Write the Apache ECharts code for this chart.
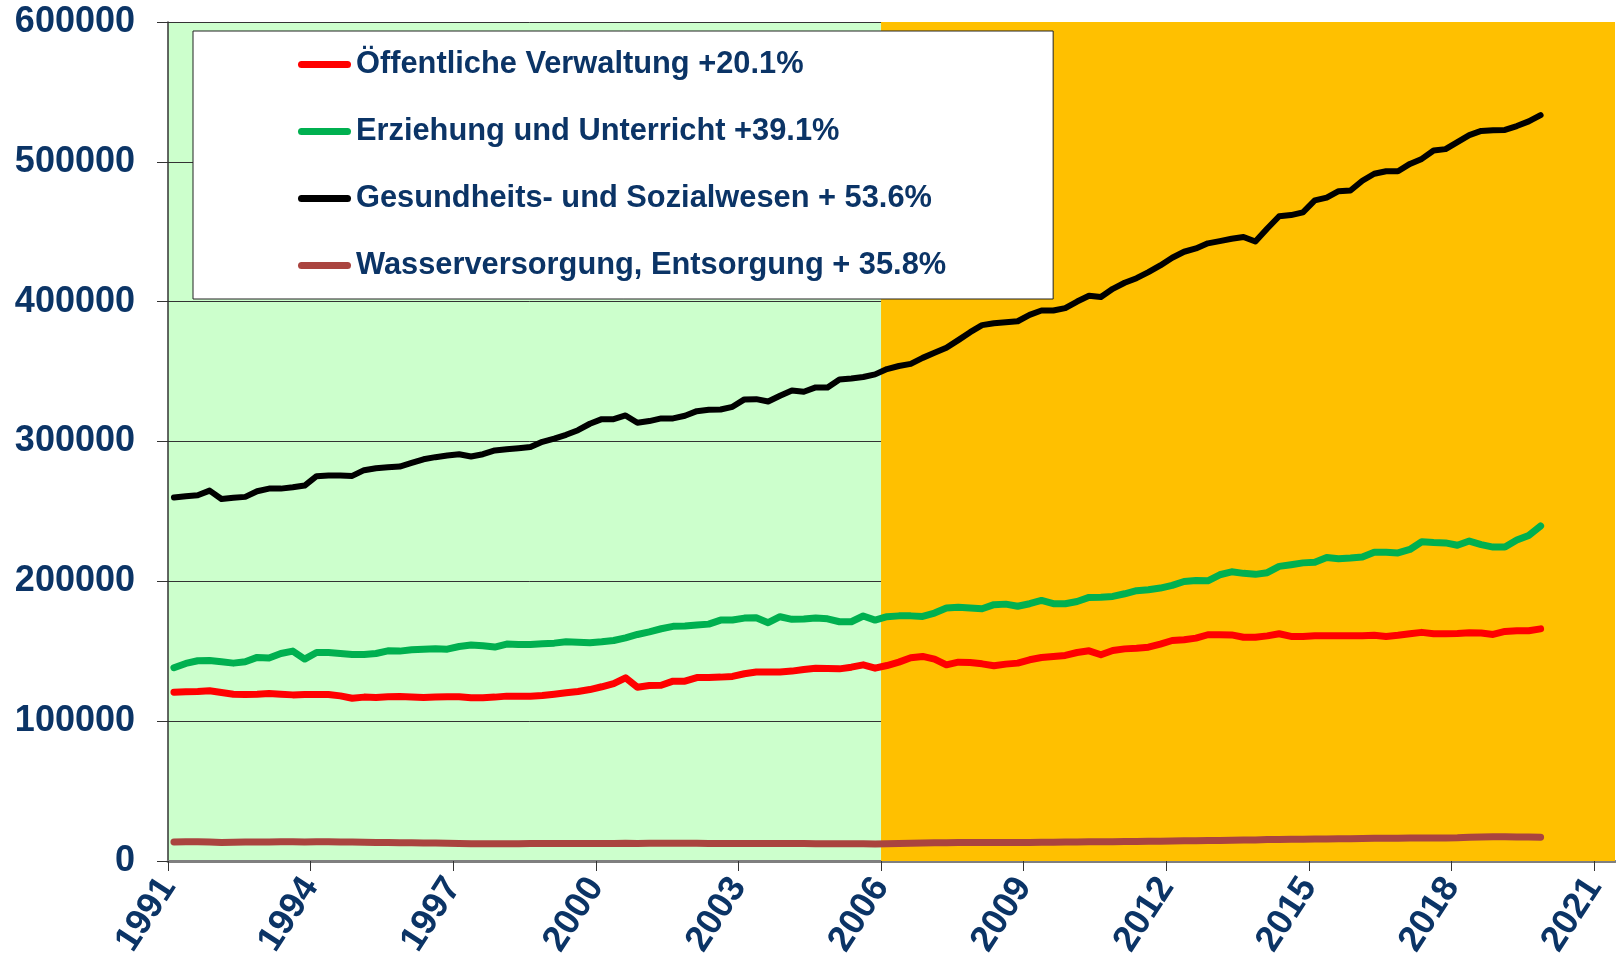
<!DOCTYPE html>
<html>
<head>
<meta charset="utf-8">
<title>Beschäftigte 1991-2019</title>
<script src="https://cdn.jsdelivr.net/npm/echarts@6.0.0/dist/echarts.min.js"></script>
<style>
  html, body { margin: 0; padding: 0; background: #fff; }
  #chart { width: 1616px; height: 966px; }
</style>
</head>
<body>
<div id="chart"></div>
<script>
// quarterly values 1991 Q1 .. 2019 Q4, one row = 3 years
const verwaltung = [
  120700, 121000, 121200, 121700, 120500, 119300, 119100, 119300, 119800, 119300, 118800, 119100,
  119100, 119100, 118100, 116400, 117200, 116900, 117400, 117600, 117200, 116900, 117200, 117400,
  117400, 116700, 116700, 117200, 117900, 117900, 117900, 118300, 119300, 120300, 121200, 122600,
  124600, 126900, 131000, 124300, 125500, 125700, 128600, 128600, 131200, 131200, 131500, 132000,
  133900, 135100, 135100, 135100, 135800, 137000, 137900, 137700, 137400, 138600, 140300, 137900,
  139800, 142200, 145300, 146300, 144400, 140300, 142200, 142000, 141000, 139600, 140800, 141500,
  143900, 145500, 146300, 147000, 149100, 150300, 147500, 150500, 151700, 152200, 152900, 155100,
  157700, 158200, 159400, 161800, 161800, 161700, 160000, 160000, 161000, 162500, 160600, 160600,
  161000, 161000, 161000, 161000, 161000, 161400, 160600, 161400, 162500, 163500, 162500, 162500,
  162700, 163200, 163000, 162000, 164200, 164700, 164700, 166000
];
const erziehung = [
  138200, 141300, 143200, 143400, 142500, 141500, 142500, 145600, 145100, 148400, 150100, 144400,
  149100, 149100, 148400, 147700, 147700, 148400, 150300, 150100, 151000, 151500, 151800, 151500,
  153400, 154400, 153900, 153000, 155100, 154900, 154900, 155300, 155800, 156800, 156500, 156100,
  156800, 157700, 159600, 162000, 163900, 166100, 167800, 168000, 168700, 169400, 172300, 172300,
  173700, 174000, 170400, 174700, 172800, 173000, 173700, 173200, 171100, 171100, 175200, 172300,
  174700, 175300, 175300, 174900, 177300, 180900, 181400, 180900, 180400, 183300, 183700, 182200,
  184000, 186300, 184000, 184000, 185600, 188500, 188700, 189200, 191100, 193300, 194000, 195200,
  197100, 199900, 200600, 200400, 204700, 206800, 205700, 205000, 206200, 210700, 211900, 213200,
  213600, 217000, 216200, 216700, 217400, 220800, 220800, 220300, 222800, 228300, 227800, 227500,
  225800, 228800, 226300, 224500, 224500, 229500, 232800, 239600
];
const gesundheit = [
  259900, 260900, 261600, 264900, 258900, 259700, 260400, 264400, 266300, 266300, 267300, 268500,
  275200, 275700, 275700, 275400, 279500, 280900, 281600, 282100, 284700, 287300, 288800, 290000,
  290900, 289300, 290900, 293600, 294500, 295200, 296000, 299800, 302100, 304800, 308100, 312700,
  316000, 316000, 318600, 313400, 314600, 316500, 316500, 318400, 321700, 322700, 322900, 324800,
  330100, 330300, 328600, 332700, 336500, 335600, 338700, 338700, 344400, 345100, 346100, 348000,
  351800, 354000, 355500, 359800, 363400, 367000, 372500, 378200, 383200, 384600, 385300, 386000,
  390600, 393700, 393700, 395400, 400100, 404200, 403300, 409200, 413500, 416800, 421100, 425900,
  431400, 435700, 438100, 441700, 443300, 445000, 446300, 443000, 452300, 461100, 461900, 463900,
  472400, 474400, 479000, 479500, 486500, 491500, 493300, 493300, 498500, 502100, 508100, 509100,
  514100, 519100, 522100, 522600, 522800, 525600, 528900, 533400
];
const wasser = [
  13600, 13700, 13800, 13500, 13300, 13400, 13500, 13600, 13600, 13700, 13800, 13600,
  13700, 13800, 13600, 13500, 13400, 13300, 13200, 13100, 13000, 12900, 12800, 12700,
  12500, 12400, 12300, 12300, 12400, 12400, 12500, 12500, 12500, 12600, 12600, 12600,
  12600, 12600, 12700, 12600, 12700, 12700, 12700, 12700, 12700, 12600, 12600, 12600,
  12600, 12600, 12600, 12600, 12500, 12500, 12400, 12400, 12400, 12300, 12300, 12200,
  12300, 12500, 12700, 12900, 13000, 13100, 13200, 13300, 13300, 13300, 13300, 13300,
  13300, 13400, 13400, 13500, 13600, 13700, 13700, 13800, 13900, 14000, 14100, 14200,
  14300, 14400, 14500, 14600, 14700, 14800, 15000, 15100, 15300, 15400, 15500, 15600,
  15700, 15800, 15900, 16000, 16100, 16200, 16300, 16300, 16400, 16400, 16500, 16500,
  16600, 16900, 17200, 17300, 17300, 17200, 17100, 17000
];

const names = [
  'Öffentliche Verwaltung +20.1%',
  'Erziehung und Unterricht +39.1%',
  'Gesundheits- und Sozialwesen + 53.6%',
  'Wasserversorgung, Entsorgung + 35.8%'
];
const xTicks = [1991, 1994, 1997, 2000, 2003, 2006, 2009, 2012, 2015, 2018, 2021];
const yTicks = [0, 100000, 200000, 300000, 400000, 500000, 600000];
const splitYear = 2006;

// each quarter sits in the middle of its slot
const quarterPos = [];
for (let y = 1991; y <= 2019; y++) {
  for (let q = 0; q < 4; q++) quarterPos.push(y + (q + 0.5) / 4);
}
const pairs = vals => quarterPos.map((x, i) => [x, vals[i]]);

const xMax = 2021.44;
const navy = '#0B3466';
const font = "'Liberation Sans', Arial, sans-serif";

let chart = echarts.init(document.getElementById('chart'));

function lineSeries(name, vals, color, width) {
  return {
    name: name,
    type: 'line',
    data: pairs(vals),
    showSymbol: false,
    symbol: 'none',
    z: 5,
    lineStyle: { color: color, width: width, cap: 'round', join: 'round' },
    itemStyle: { color: color }
  };
}

let option = {
  animation: false,
  backgroundColor: '#fff',
  grid: {
    left: 168, right: 1, top: 22, bottom: 105,
    show: true, backgroundColor: '#CCFFCC', borderWidth: 0
  },
  legend: {
    data: names,
    orient: 'vertical',
    left: 193,
    top: 31,
    padding: [18, 107, 18, 105],
    itemGap: 36,
    itemWidth: 53,
    itemHeight: 7,
    icon: 'path://M3.5,0 H49.5 A3.5,3.5 0 0 1 49.5,7 H3.5 A3.5,3.5 0 0 1 3.5,0 Z',
    backgroundColor: '#fff',
    borderColor: '#222',
    borderWidth: 1,
    borderRadius: 0,
    textStyle: { color: navy, fontSize: 30.8, fontWeight: 'bold', fontFamily: font }
  },
  xAxis: {
    type: 'value',
    min: 1991,
    max: xMax,
    splitLine: { show: false },
    axisLine: { lineStyle: { color: '#7F7F7F', width: 3 } },
    axisTick: { customValues: xTicks, length: 10, lineStyle: { color: '#333', width: 1 } },
    axisLabel: {
      customValues: xTicks,
      formatter: v => String(v),
      rotate: 57,
      margin: 20,
      color: navy,
      fontSize: 36,
      fontWeight: 'bold',
      fontFamily: font
    }
  },
  yAxis: {
    type: 'value',
    min: 0,
    max: 600000,
    interval: 100000,
    axisLine: { show: true, lineStyle: { color: '#333', width: 1.5 } },
    axisTick: { show: true, length: 11, lineStyle: { color: '#333', width: 1 } },
    splitLine: { show: true, lineStyle: { color: '#333', width: 1 } },
    axisLabel: {
      customValues: yTicks,
      formatter: v => String(v),
      margin: 33,
      color: navy,
      fontSize: 36,
      fontWeight: 'bold',
      fontFamily: font
    }
  },
  series: [
    {
      name: 'bg',
      type: 'line',
      data: [],
      z: 1,
      silent: true,
      markArea: {
        silent: true,
        itemStyle: { color: '#FFC000', opacity: 1 },
        data: [[{ xAxis: splitYear }, { xAxis: xMax }]]
      }
    },
    lineSeries(names[3], wasser, '#AA443F', 7),
    lineSeries(names[0], verwaltung, '#FF0000', 7),
    lineSeries(names[1], erziehung, '#00B050', 7),
    lineSeries(names[2], gesundheit, '#000000', 6)
  ]
};
chart.setOption(option);
</script>
</body>
</html>
